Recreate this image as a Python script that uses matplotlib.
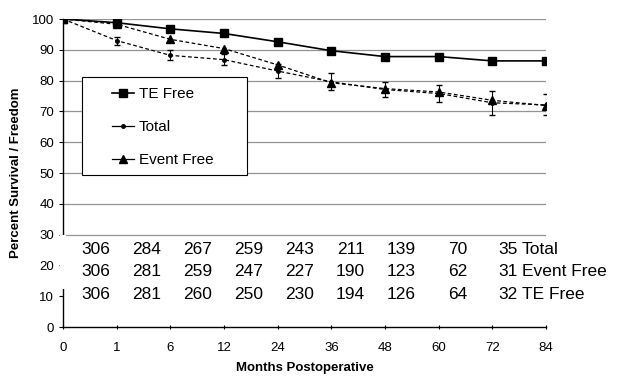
import matplotlib
matplotlib.use("Agg")
import matplotlib.pyplot as plt
from matplotlib.patches import Rectangle
from matplotlib.lines import Line2D

plt.rcParams['font.family'] = ['Liberation Sans', 'DejaVu Sans']

months = ["0", "1", "6", "12", "24", "36", "48", "60", "72", "84"]
te_free = [100, 98.8, 96.8, 95.3, 92.6, 89.7, 87.8, 87.8, 86.4, 86.4]
total = [100, 93.0, 88.2, 86.8, 83.1, 79.6, 77.1, 75.8, 72.8, 72.1]
total_err = [0, 1.3, 1.6, 1.8, 2.3, 2.8, 2.5, 2.7, 3.9, 3.4]
event_free = [100, 98.3, 93.4, 90.4, 85.1, 79.3, 77.4, 76.3, 73.6, 71.9]

at_risk_total = [306, 284, 267, 259, 243, 211, 139, 70, 35]
at_risk_event = [306, 281, 259, 247, 227, 190, 123, 62, 31]
at_risk_te = [306, 281, 260, 250, 230, 194, 126, 64, 32]
row_labels = ["Total", "Event Free", "TE Free"]

fig = plt.figure(figsize=(6.19, 3.77), dpi=100)
ax = fig.add_axes([63 / 619, 1 - 327 / 377, 483 / 619, 308 / 377])

x = list(range(len(months)))
dash = (0, (3, 2))

ax.plot(x, te_free, color='black', lw=1.2, marker='s', markersize=6, zorder=4)
ax.errorbar(x, total, yerr=total_err, color='black', lw=0.9, ls=dash,
            marker='o', markersize=2.5, capsize=2, elinewidth=0.8, zorder=4)
ax.plot(x, event_free, color='black', lw=0.9, ls=dash, marker='^',
        markersize=6, zorder=4)

ax.set_xlim(0, 9)
ax.set_ylim(0, 100)
ax.set_xticks(x)
ax.set_xticklabels(months)
ax.set_yticks(range(0, 101, 10))
ax.tick_params(axis='both', labelsize=9.5, length=3, width=0.8)
ax.tick_params(axis='x', direction='inout', pad=9)

for v in range(30, 101, 10):
    ax.axhline(v, color='#939393', lw=0.9, zorder=1)

for side in ('top', 'right'):
    ax.spines[side].set_visible(False)
ax.spines['left'].set_linewidth(1.0)
ax.spines['bottom'].set_linewidth(1.0)

# blank the axis line behind the at-risk table
ax.add_patch(Rectangle((-0.05, 12.5), 0.1, 17.3, facecolor='white',
                       edgecolor='none', zorder=5, clip_on=False))

# numbers at risk, one row per series
rows = [at_risk_total, at_risk_event, at_risk_te]
row_y = [25.3, 18.0, 10.4]
for vals, yv, name in zip(rows, row_y, row_labels):
    for i, n in enumerate(vals):
        ax.text(0.876 + 0.95 * i, yv, str(n), ha='right', va='center',
                fontsize=12.5, zorder=6)
    ax.text(8.55, yv, name, ha='left', va='center', fontsize=12.5, zorder=6,
            clip_on=False)

ax.set_ylabel('Percent Survival / Freedom', fontsize=9.5, fontweight='bold',
              labelpad=7)
ax.set_xlabel('Months Postoperative', fontsize=9.5, fontweight='bold',
              labelpad=6)

# legend box
ax.add_patch(Rectangle((0.039, 0.494), 0.342, 0.318, transform=ax.transAxes,
                       facecolor='white', edgecolor='black', lw=0.8, zorder=7))
handles = [
    Line2D([], [], color='black', lw=1.2, marker='s', markersize=6),
    Line2D([], [], color='black', lw=0.9, marker='o', markersize=2.5),
    Line2D([], [], color='black', lw=0.9, marker='^', markersize=6),
]
leg = ax.legend(handles, ['TE Free', 'Total', 'Event Free'], loc='upper left',
                bbox_to_anchor=((112 - 63) / 483, (327 - 87) / 308),
                frameon=False, fontsize=11, handlelength=1.45,
                labelspacing=1.25, borderpad=0, handletextpad=0.3,
                borderaxespad=0)
leg.set_zorder(8)

fig.savefig('out.png', dpi=100, facecolor='white')
